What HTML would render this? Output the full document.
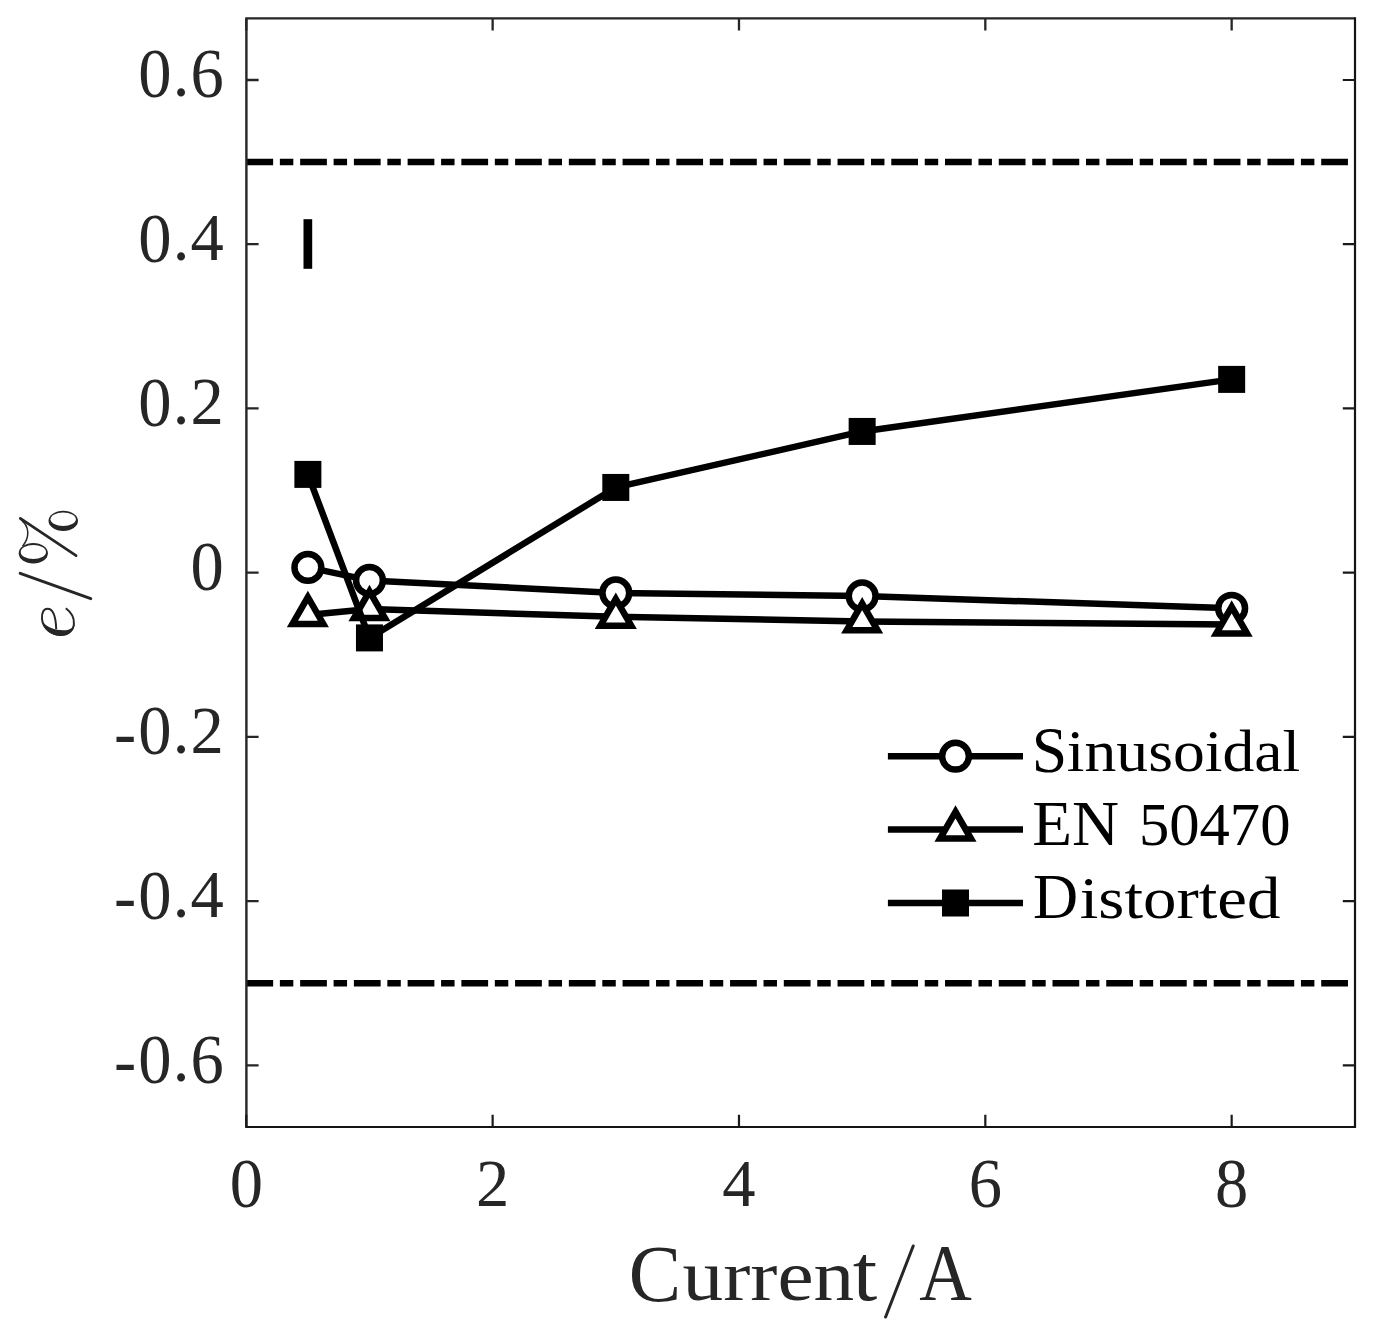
<!DOCTYPE html>
<html><head><meta charset="utf-8"><style>
html,body{margin:0;padding:0;background:#fff;width:1383px;height:1338px;overflow:hidden;}
svg{display:block;font-family:"Liberation Serif", serif;}
</style></head><body>
<svg width="1383" height="1338" viewBox="0 0 1383 1338">
<rect width="1383" height="1338" fill="#fff"/>
<defs><clipPath id="ax"><rect x="246.4" y="18.4" width="1108.6" height="1108.6"/></clipPath></defs>
<g clip-path="url(#ax)">
<line x1="246.4" y1="162.10" x2="1355.0" y2="162.10" stroke="#000" stroke-width="6.5" stroke-dasharray="26.75 6.72 13.45 6.82"/>
<line x1="246.4" y1="983.30" x2="1355.0" y2="983.30" stroke="#000" stroke-width="6.5" stroke-dasharray="26.75 6.72 13.45 6.82"/>
<rect x="303.5" y="219.2" width="8.7" height="49.6" fill="#000"/>
<polyline points="307.88,567.40 369.47,580.43 615.81,593.00 862.15,595.95 1231.66,608.30" fill="none" stroke="#000" stroke-width="6.5" stroke-linejoin="round"/>
<circle cx="307.88" cy="567.40" r="13.4" fill="#fff" stroke="#000" stroke-width="6.5"/>
<circle cx="369.47" cy="580.43" r="13.4" fill="#fff" stroke="#000" stroke-width="6.5"/>
<circle cx="615.81" cy="593.00" r="13.4" fill="#fff" stroke="#000" stroke-width="6.5"/>
<circle cx="862.15" cy="595.95" r="13.4" fill="#fff" stroke="#000" stroke-width="6.5"/>
<circle cx="1231.66" cy="608.30" r="13.4" fill="#fff" stroke="#000" stroke-width="6.5"/>
<polyline points="307.88,615.00 369.47,609.10 615.81,616.80 862.15,621.40 1231.66,624.60" fill="none" stroke="#000" stroke-width="6.5" stroke-linejoin="round"/>
<polygon points="307.88,597.20 292.47,623.90 323.30,623.90" fill="#fff" stroke="#000" stroke-width="6.5" stroke-linejoin="miter" stroke-miterlimit="10"/>
<polygon points="369.47,591.30 354.05,618.00 384.89,618.00" fill="#fff" stroke="#000" stroke-width="6.5" stroke-linejoin="miter" stroke-miterlimit="10"/>
<polygon points="615.81,599.00 600.39,625.70 631.23,625.70" fill="#fff" stroke="#000" stroke-width="6.5" stroke-linejoin="miter" stroke-miterlimit="10"/>
<polygon points="862.15,603.60 846.73,630.30 877.57,630.30" fill="#fff" stroke="#000" stroke-width="6.5" stroke-linejoin="miter" stroke-miterlimit="10"/>
<polygon points="1231.66,606.80 1216.24,633.50 1247.08,633.50" fill="#fff" stroke="#000" stroke-width="6.5" stroke-linejoin="miter" stroke-miterlimit="10"/>
<polyline points="307.88,474.40 369.47,637.90 615.81,487.45 862.15,431.45 1231.66,379.40" fill="none" stroke="#000" stroke-width="6.5" stroke-linejoin="round"/>
<rect x="294.38" y="460.90" width="27.0" height="27.0" fill="#000"/>
<rect x="355.97" y="624.40" width="27.0" height="27.0" fill="#000"/>
<rect x="602.31" y="473.95" width="27.0" height="27.0" fill="#000"/>
<rect x="848.65" y="417.95" width="27.0" height="27.0" fill="#000"/>
<rect x="1218.16" y="365.90" width="27.0" height="27.0" fill="#000"/>
</g>
<path d="M246.4,1127.0 V18.4 H1355.0" fill="none" stroke="#262626" stroke-width="2.4" stroke-linejoin="miter"/>
<path d="M245.20,1127.0 H1355.0 V17.20" fill="none" stroke="#141414" stroke-width="2.2" stroke-linejoin="miter"/>
<path d="M246.30,18.4V30.60M492.64,18.4V30.60M738.98,18.4V30.60M985.32,18.4V30.60M1231.66,18.4V30.60M246.4,1065.42H258.60M246.4,901.18H258.60M246.4,736.94H258.60M246.4,572.70H258.60M246.4,408.46H258.60M246.4,244.22H258.60M246.4,79.98H258.60" stroke="#262626" stroke-width="2.3" fill="none"/>
<path d="M246.30,1127.0V1114.80M492.64,1127.0V1114.80M738.98,1127.0V1114.80M985.32,1127.0V1114.80M1231.66,1127.0V1114.80M1355.0,1065.42H1342.80M1355.0,901.18H1342.80M1355.0,736.94H1342.80M1355.0,572.70H1342.80M1355.0,408.46H1342.80M1355.0,244.22H1342.80M1355.0,79.98H1342.80" stroke="#1a1a1a" stroke-width="2.2" fill="none"/>
<g font-family="Liberation Serif">
<text transform="translate(246.30,1206.60) scale(0.9566,1)" font-size="69.6" text-anchor="middle" fill="#262626">0</text>
<text transform="translate(492.64,1205.80) scale(0.9566,0.97)" font-size="69.6" text-anchor="middle" fill="#262626">2</text>
<text transform="translate(738.98,1205.80) scale(0.9566,0.98)" font-size="69.6" text-anchor="middle" fill="#262626">4</text>
<text transform="translate(985.32,1206.60) scale(0.9566,1)" font-size="69.6" text-anchor="middle" fill="#262626">6</text>
<text transform="translate(1231.66,1206.60) scale(0.9566,1)" font-size="69.6" text-anchor="middle" fill="#262626">8</text>
<text transform="translate(154.90,97.48) scale(0.9566,1)" font-size="69.6" text-anchor="middle" fill="#262626">0</text>
<text transform="translate(181.00,95.98) scale(0.9566,1)" font-size="69.6" text-anchor="middle" fill="#262626">.</text>
<text transform="translate(207.05,97.48) scale(0.9566,1)" font-size="69.6" text-anchor="middle" fill="#262626">6</text>
<text transform="translate(154.90,261.72) scale(0.9566,1)" font-size="69.6" text-anchor="middle" fill="#262626">0</text>
<text transform="translate(181.00,260.22) scale(0.9566,1)" font-size="69.6" text-anchor="middle" fill="#262626">.</text>
<text transform="translate(207.05,260.22) scale(0.9566,0.98)" font-size="69.6" text-anchor="middle" fill="#262626">4</text>
<text transform="translate(154.90,425.96) scale(0.9566,1)" font-size="69.6" text-anchor="middle" fill="#262626">0</text>
<text transform="translate(181.00,424.46) scale(0.9566,1)" font-size="69.6" text-anchor="middle" fill="#262626">.</text>
<text transform="translate(207.05,424.36) scale(0.9566,0.97)" font-size="69.6" text-anchor="middle" fill="#262626">2</text>
<text transform="translate(207.10,590.20) scale(0.9566,1)" font-size="69.6" text-anchor="middle" fill="#262626">0</text>
<text transform="translate(125.20,755.94) scale(0.9566,1)" font-size="69.6" text-anchor="middle" fill="#262626">-</text>
<text transform="translate(154.90,754.44) scale(0.9566,1)" font-size="69.6" text-anchor="middle" fill="#262626">0</text>
<text transform="translate(181.00,752.94) scale(0.9566,1)" font-size="69.6" text-anchor="middle" fill="#262626">.</text>
<text transform="translate(207.05,752.84) scale(0.9566,0.97)" font-size="69.6" text-anchor="middle" fill="#262626">2</text>
<text transform="translate(125.20,920.18) scale(0.9566,1)" font-size="69.6" text-anchor="middle" fill="#262626">-</text>
<text transform="translate(154.90,918.68) scale(0.9566,1)" font-size="69.6" text-anchor="middle" fill="#262626">0</text>
<text transform="translate(181.00,917.18) scale(0.9566,1)" font-size="69.6" text-anchor="middle" fill="#262626">.</text>
<text transform="translate(207.05,917.18) scale(0.9566,0.98)" font-size="69.6" text-anchor="middle" fill="#262626">4</text>
<text transform="translate(125.20,1084.42) scale(0.9566,1)" font-size="69.6" text-anchor="middle" fill="#262626">-</text>
<text transform="translate(154.90,1082.92) scale(0.9566,1)" font-size="69.6" text-anchor="middle" fill="#262626">0</text>
<text transform="translate(181.00,1081.42) scale(0.9566,1)" font-size="69.6" text-anchor="middle" fill="#262626">.</text>
<text transform="translate(207.05,1082.92) scale(0.9566,1)" font-size="69.6" text-anchor="middle" fill="#262626">6</text>
</g>
<g font-family="Liberation Serif" fill="#262626">
<text transform="translate(628.76,1300.60) scale(0.9860,1)" font-size="79.60">C</text>
<text transform="translate(682.62,1300.09) scale(1.1450,1)" font-size="71.04">urren</text>
<text transform="translate(852.82,1299.99) scale(1.0886,1)" font-size="80.93">t</text>
<path d="M913.2,1246 L885.6,1317" stroke="#262626" stroke-width="3.0" stroke-linecap="round" fill="none"/>
<text transform="translate(919.3,1299.9) scale(0.903,1)" font-size="80.6">A</text>
</g>
<g transform="translate(74.9,636) rotate(-90)" font-family="Liberation Serif" fill="#262626">
<path d="M37.4,15.9 L62.7,-54.7" stroke="#262626" stroke-width="3.0" stroke-linecap="round" fill="none"/>
</g>
<path d="M65.8,608.3 C71.5,612.5 74.3,618.5 73.9,624 C73.5,630.5 67.5,635 61,635 C51,635 43,628.5 42,619 C41.5,612 44,608.8 47.5,608.8 C53.5,608.8 55.8,616 56.2,629.3" stroke="#262626" stroke-width="2.0" fill="none"/>
<path d="M42.2,621 C44.5,631 52,635.8 61.2,635.8 C68.5,635.8 74.5,631 74.6,624 C73,628.5 68.5,630.5 63,630.3 C55,630 46.5,627.5 42.2,621 Z" fill="#262626"/>
<g fill="#262626">
<ellipse cx="63.25" cy="520.8" rx="14.75" ry="10.1"/><ellipse cx="63.2" cy="519.3" rx="12.7" ry="6.8" fill="#fff"/>
<ellipse cx="33.3" cy="553.35" rx="14.6" ry="10.25"/><ellipse cx="33.35" cy="551.95" rx="12.65" ry="7.05" fill="#fff"/>
</g>
<path d="M20.3,518.3 L76.1,555.7" stroke="#262626" stroke-width="2.7" stroke-linecap="round" fill="none"/>
<path d="M20.0,518.6 C23.8,521.6 27.6,526.2 27.8,532.2 C28,538 25.6,542.5 22.6,546.2" stroke="#262626" stroke-width="1.5" fill="none"/>
<path d="M19.3,517.9 L25.2,521.9 C24.2,522.1 23.6,522.5 23.2,523.2 C22.2,521.6 20.9,520.1 19.3,517.9 Z" fill="#262626"/>
<line x1="887.9" y1="756.2" x2="1023.0" y2="756.2" stroke="#000" stroke-width="6.5"/>
<circle cx="955.50" cy="756.20" r="13.4" fill="#fff" stroke="#000" stroke-width="6.5"/>
<line x1="887.9" y1="829.6" x2="1023.0" y2="829.6" stroke="#000" stroke-width="6.5"/>
<polygon points="955.50,811.80 940.08,838.50 970.92,838.50" fill="#fff" stroke="#000" stroke-width="6.5" stroke-linejoin="miter" stroke-miterlimit="10"/>
<line x1="887.9" y1="903.0" x2="1023.0" y2="903.0" stroke="#000" stroke-width="6.5"/>
<rect x="942.00" y="889.50" width="27.0" height="27.0" fill="#000"/>
<g font-family="Liberation Serif" fill="#000">
<text transform="translate(1031.81,771.59) scale(0.9650,1)" font-size="65.94">S</text>
<text transform="translate(1033.03,917.59) scale(0.9884,1)" font-size="63.18">D</text>
<text transform="translate(1032.24,844.70) scale(1.0242,1)" font-size="63.65">EN</text>
<text transform="translate(1138.91,844.98) scale(0.9857,1)" font-size="61.52">50470</text>
<text transform="translate(1066.83,770.9) scale(1.0264,0.9382)" font-size="62.0">inusoidal</text>
<text transform="translate(1079.76,917.8) scale(1.0792,0.9382)" font-size="62.0">istorted</text>
</g>
</svg>
</body></html>
